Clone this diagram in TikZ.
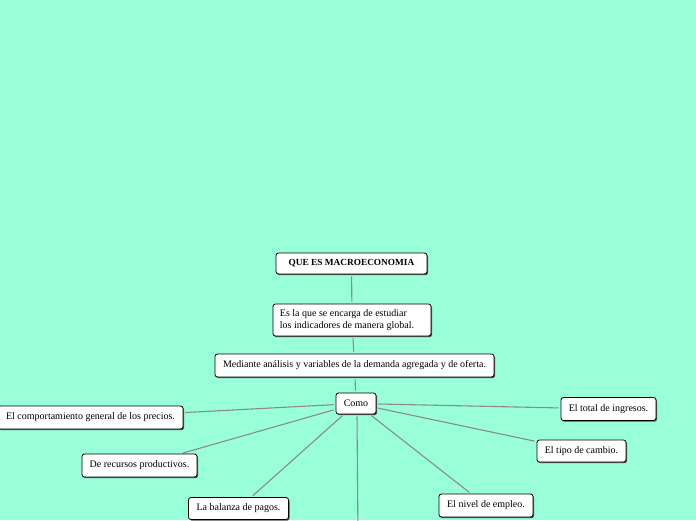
\documentclass[tikz,border=0pt]{standalone}
\usepackage{fontspec}
\setmainfont{Liberation Serif}
\usetikzlibrary{shadows}
\definecolor{bgmint}{RGB}{153,255,217}
\definecolor{linkgrey}{RGB}{138,138,138}
\pgfdeclarelayer{bg}
\pgfdeclarelayer{links}
\pgfsetlayers{bg,links,main}
\begin{document}
\begin{tikzpicture}[x=1pt,y=-1pt,
  box/.style={draw=black, fill=white, rounded corners=2.5pt, line width=0.8pt,
    inner sep=0pt, font=\fontsize{10}{11.5}\selectfont,
    drop shadow={shadow xshift=1pt, shadow yshift=-1.2pt, fill=black!70, opacity=1}},
  link/.style={draw=linkgrey, line width=1.1pt, shorten <=2pt, shorten >=2pt}]
\begin{pgfonlayer}{bg}
\fill[bgmint] (0,0) rectangle (696,520);
\end{pgfonlayer}
\useasboundingbox (0,0) rectangle (696,520);
\node[box, minimum width=151, minimum height=21, font=\fontsize{9.3}{11}\selectfont\bfseries] (q) at (351.5,263.5) {QUE ES MACROECONOMIA};
\node[box, minimum width=158, minimum height=32, align=left] (e) at (352,320) {Es la que se encarga de estudiar\\los indicadores de manera global.\hspace*{10pt}};
\node[box, minimum width=279, minimum height=23] (m) at (354.5,365.5) {Mediante análisis y variables de la demanda agregada y de oferta.};
\node[box, minimum width=40, minimum height=21] (c) at (356,403.5) {Como};
\node[box, minimum width=185, minimum height=23] (p) at (90.5,417.5) {El comportamiento general de los precios.};
\node[box, minimum width=115, minimum height=23] (r) at (139.5,465.5) {De recursos productivos.};
\node[box, minimum width=100, minimum height=22] (b) at (238.5,508.5) {La balanza de pagos.};
\node[box, minimum width=95, minimum height=23] (i) at (608.5,409) {El total de ingresos.};
\node[box, minimum width=89, minimum height=22] (t) at (581.5,451) {El tipo de cambio.};
\node[box, minimum width=94, minimum height=23] (n) at (486,505.5) {El nivel de empleo.};
\coordinate (cs) at ([xshift=1pt]c.south);
\coordinate (d) at (358,540);
\begin{pgfonlayer}{links}
\path[link] (q) -- (e);
\path[link] (e) -- (m);
\path[link] (m) -- (c);
\path[link] (c) -- (p);
\path[link] (c) -- (r);
\path[link] (c) -- (b);
\path[link] (c) -- (i);
\path[link] (c) -- (t);
\path[link] (c) -- (n);
\path[link] (cs) -- (d);
\end{pgfonlayer}
\end{tikzpicture}
\end{document}
